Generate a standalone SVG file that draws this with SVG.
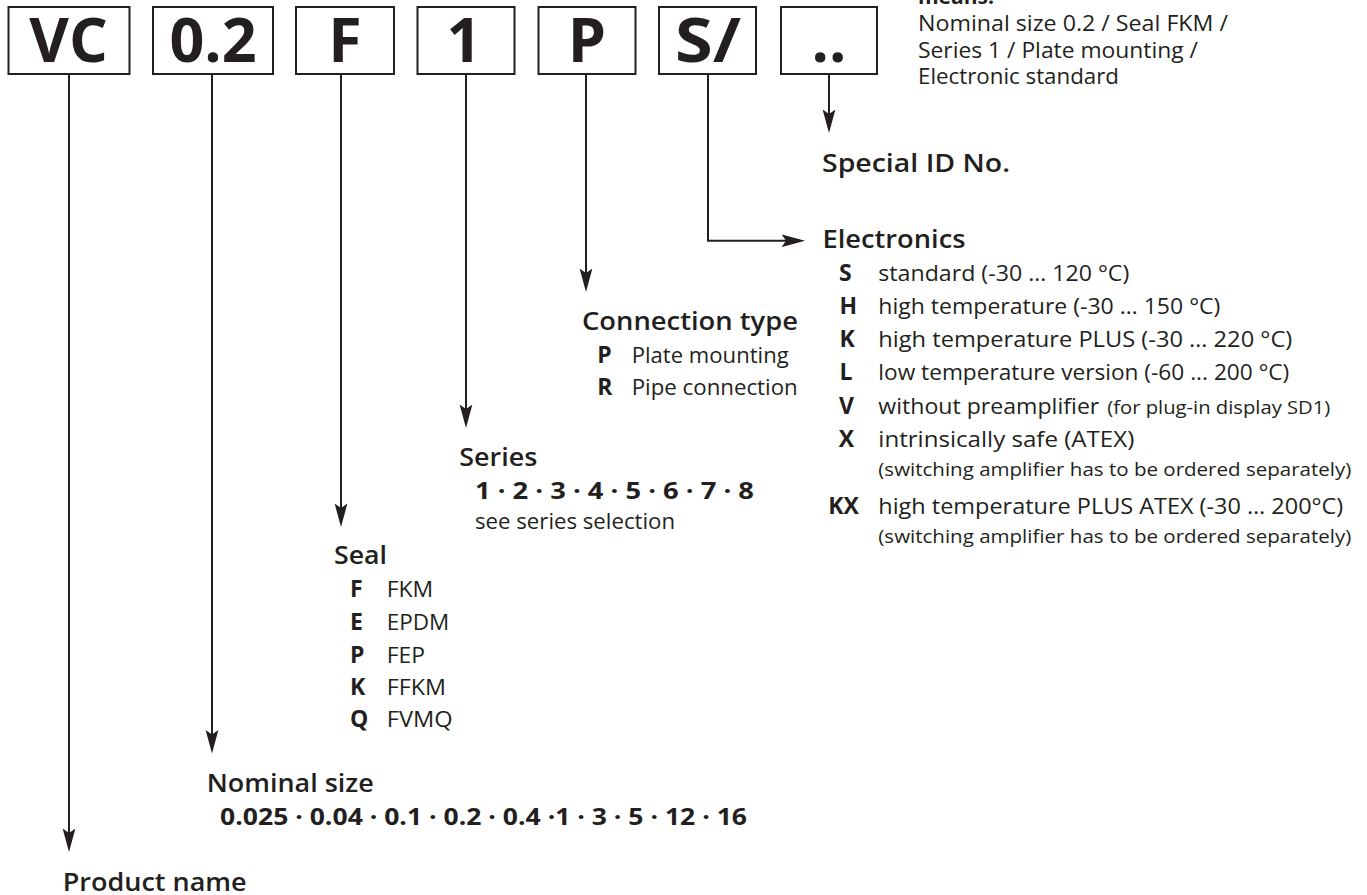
<svg xmlns="http://www.w3.org/2000/svg" width="1367" height="895" viewBox="0 0 1367 895">
<style>
text{font-family:"Open Sans","Liberation Sans",sans-serif;fill:#231f20}
.box{fill:#fff;stroke:#231f20;stroke-width:2}
.code{font-weight:700;font-size:61px;text-anchor:middle}
.head{font-weight:600;font-size:26px}
.key{font-weight:700;font-size:23px}
.txt{font-weight:400;font-size:22px}
.note{font-weight:400;font-size:21px}
.small{font-weight:400;font-size:18px}
.conn{fill:none;stroke:#231f20;stroke-width:2;marker-end:url(#ah)}
</style>
<defs>
<marker id="ah" markerUnits="userSpaceOnUse" markerWidth="24" markerHeight="14" viewBox="0 0 24 14" refX="18" refY="7" orient="auto">
<path d="M0,0.6 L23.5,7 L0,13.4 L4.5,7 Z" fill="#231f20"/>
</marker>
</defs>
<rect x="0" y="0" width="1367" height="895" fill="#fff"/>

<g id="code-vc"><rect class="box" x="8.5" y="7" width="121" height="67"/><text class="code" x="68.5" y="62">VC</text></g>
<g id="code-size"><rect class="box" x="153" y="7" width="120" height="67"/><text class="code" x="213" y="62">0.2</text></g>
<g id="code-seal"><rect class="box" x="296" y="7" width="98" height="67"/><text class="code" x="345" y="62">F</text></g>
<g id="code-series"><rect class="box" x="417.5" y="7" width="97" height="67"/><text class="code" x="464" y="62">1</text></g>
<g id="code-conn"><rect class="box" x="538.5" y="7" width="97" height="67"/><text class="code" x="587" y="62">P</text></g>
<g id="code-elec"><rect class="box" x="659" y="7" width="97" height="67"/><text class="code" x="708" y="62" textLength="66" lengthAdjust="spacingAndGlyphs">S/</text></g>
<g id="code-special"><rect class="box" x="781" y="7" width="96" height="67"/><text class="code" x="829" y="62">..</text></g>

<g id="connectors">
<path class="conn" d="M69,75 V846.5"/>
<path class="conn" d="M212,75 V748"/>
<path class="conn" d="M341,75 V521.5"/>
<path class="conn" d="M466,75 V422.5"/>
<path class="conn" d="M586,75 V286.5"/>
<path class="conn" d="M708,75 V240.7 H799.5"/>
<path class="conn" d="M829,75 V127.5"/>
</g>

<g id="note">
<text x="918" y="4" style="font-weight:700;font-size:21px">means:</text>
<text class="note" x="918" y="31" textLength="310" lengthAdjust="spacingAndGlyphs">Nominal size 0.2 / Seal FKM /</text>
<text class="note" x="918" y="57.5" textLength="280" lengthAdjust="spacingAndGlyphs">Series 1 / Plate mounting /</text>
<text class="note" x="918" y="84" textLength="201" lengthAdjust="spacingAndGlyphs">Electronic standard</text>
</g>

<g id="label-special">
<text class="head" x="822" y="172" textLength="188" lengthAdjust="spacingAndGlyphs">Special ID No.</text>
</g>

<g id="label-electronics">
<text class="head" x="822.5" y="247.5" textLength="143" lengthAdjust="spacingAndGlyphs">Electronics</text>
<text class="key" x="839" y="281">S</text>
<text class="txt" x="878.3" y="281" textLength="251" lengthAdjust="spacingAndGlyphs">standard (-30 … 120 °C)</text>
<text class="key" x="839.5" y="314">H</text>
<text class="txt" x="878.3" y="314" textLength="342" lengthAdjust="spacingAndGlyphs">high temperature (-30 … 150 °C)</text>
<text class="key" x="839.5" y="347">K</text>
<text class="txt" x="878.3" y="347" textLength="414" lengthAdjust="spacingAndGlyphs">high temperature PLUS (-30 … 220 °C)</text>
<text class="key" x="839.5" y="380">L</text>
<text class="txt" x="878.3" y="380" textLength="411" lengthAdjust="spacingAndGlyphs">low temperature version (-60 ... 200 °C)</text>
<text class="key" x="839" y="414">V</text>
<text class="txt" x="878.3" y="414" textLength="221" lengthAdjust="spacingAndGlyphs">without preamplifier</text>
<text class="small" x="1107.3" y="414" textLength="223" lengthAdjust="spacingAndGlyphs">(for plug-in display SD1)</text>
<text class="key" x="838.7" y="447">X</text>
<text class="txt" x="878.3" y="447" textLength="256" lengthAdjust="spacingAndGlyphs">intrinsically safe (ATEX)</text>
<text class="small" x="878.3" y="475.5" textLength="473" lengthAdjust="spacingAndGlyphs">(switching amplifier has to be ordered separately)</text>
<text class="key" x="828.3" y="514">KX</text>
<text class="txt" x="878.3" y="514" textLength="465" lengthAdjust="spacingAndGlyphs">high temperature PLUS ATEX (-30 … 200°C)</text>
<text class="small" x="878.3" y="542.5" textLength="473" lengthAdjust="spacingAndGlyphs">(switching amplifier has to be ordered separately)</text>
</g>

<g id="label-connection">
<text class="head" x="582" y="330" textLength="216" lengthAdjust="spacingAndGlyphs">Connection type</text>
<text class="key" x="597.3" y="363">P</text>
<text class="txt" x="631.7" y="363" textLength="157" lengthAdjust="spacingAndGlyphs">Plate mounting</text>
<text class="key" x="597.3" y="395">R</text>
<text class="txt" x="631.7" y="395" textLength="166" lengthAdjust="spacingAndGlyphs">Pipe connection</text>
</g>

<g id="label-series">
<text class="head" x="459.3" y="466" textLength="78" lengthAdjust="spacingAndGlyphs">Series</text>
<text class="key" x="475" y="498.5" textLength="279" lengthAdjust="spacingAndGlyphs">1 · 2 · 3 · 4 · 5 · 6 · 7 · 8</text>
<text class="txt" x="475" y="529" textLength="200" lengthAdjust="spacingAndGlyphs">see series selection</text>
</g>

<g id="label-seal">
<text class="head" x="334" y="564.3" textLength="53" lengthAdjust="spacingAndGlyphs">Seal</text>
<text class="key" x="350" y="597.3">F</text>
<text class="txt" x="386.7" y="597.3" textLength="46.6" lengthAdjust="spacingAndGlyphs">FKM</text>
<text class="key" x="350" y="630">E</text>
<text class="txt" x="386.7" y="630" textLength="62.6" lengthAdjust="spacingAndGlyphs">EPDM</text>
<text class="key" x="350" y="662.7">P</text>
<text class="txt" x="386.7" y="662.7" textLength="38.3" lengthAdjust="spacingAndGlyphs">FEP</text>
<text class="key" x="350" y="695">K</text>
<text class="txt" x="386.7" y="695" textLength="59.3" lengthAdjust="spacingAndGlyphs">FFKM</text>
<text class="key" x="350" y="727.3">Q</text>
<text class="txt" x="386.7" y="727.3" textLength="66" lengthAdjust="spacingAndGlyphs">FVMQ</text>
</g>

<g id="label-nominal">
<text class="head" x="206.7" y="791.7" textLength="167" lengthAdjust="spacingAndGlyphs">Nominal size</text>
<text class="key" x="220" y="825" textLength="527" lengthAdjust="spacingAndGlyphs">0.025 · 0.04 · 0.1 · 0.2 · 0.4 ·1 · 3 · 5 · 12 · 16</text>
</g>

<g id="label-product">
<text class="head" x="62.7" y="891" textLength="184" lengthAdjust="spacingAndGlyphs">Product name</text>
</g>
</svg>
